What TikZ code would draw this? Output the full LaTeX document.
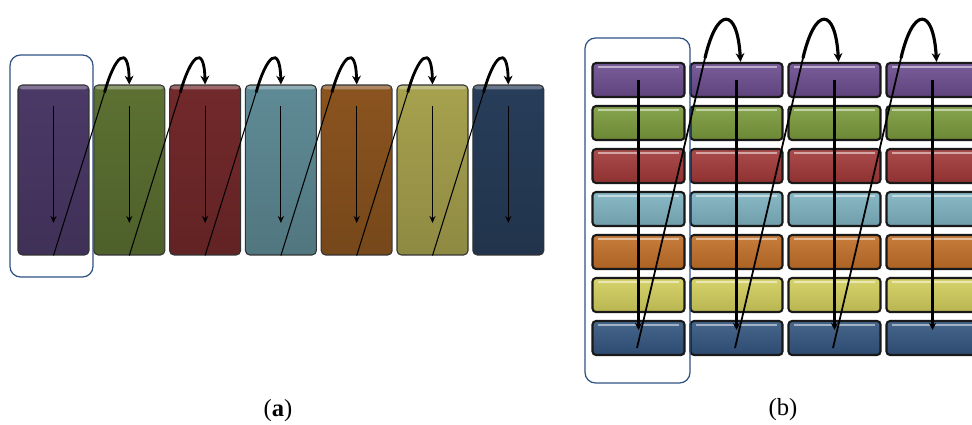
\documentclass[tikz,border=0pt]{standalone}
\usepackage{fontspec}
\setmainfont{Liberation Serif}
\usetikzlibrary{calc,arrows.meta}

\definecolor{purpA}{HTML}{4B3967}
\definecolor{greenA}{HTML}{5C7132}
\definecolor{redA}{HTML}{73292B}
\definecolor{tealA}{HTML}{5F8B96}
\definecolor{orangeA}{HTML}{8B541F}
\definecolor{oliveA}{HTML}{A7A24E}
\definecolor{navyA}{HTML}{273D59}
\definecolor{purpB}{HTML}{6B4C8E}
\definecolor{greenB}{HTML}{7A9A3B}
\definecolor{redB}{HTML}{A23838}
\definecolor{blueB}{HTML}{7EB2C1}
\definecolor{orangeB}{HTML}{C26F27}
\definecolor{yellowB}{HTML}{D2CE5C}
\definecolor{navyB}{HTML}{33557F}
\definecolor{frameblue}{HTML}{2E5283}

\tikzset{
	tallbox/.style={draw=black!80, line width=0.6pt, rounded corners=2.5pt, inner sep=0pt,
		minimum width=1.42cm, minimum height=3.4cm, top color=#1, bottom color=#1!85!black,
		path picture={\fill[white, opacity=0.3] (path picture bounding box.north west) rectangle ([yshift=-2.5pt]path picture bounding box.north east);}},
	cellbox/.style={draw=black!90, line width=1.2pt, rounded corners=2pt, inner sep=0pt,
		minimum width=1.84cm, minimum height=0.68cm, top color=#1!90!white, bottom color=#1!88!black,
		path picture={\draw[white, opacity=0.5, line width=1.3pt] ([xshift=3pt,yshift=-2.2pt]path picture bounding box.north west) -- ([xshift=-3pt,yshift=-2.2pt]path picture bounding box.north east);}},
	frame/.style={draw=frameblue, line width=0.7pt, rounded corners=6pt},
	down/.style={-{Stealth[length=4pt,width=3.5pt]}, line width=0.6pt},
	bdown/.style={-{Stealth[length=4pt,width=4pt]}, line width=1.3pt},
	diag/.style={line width=0.6pt},
	hop/.style={-{Stealth[length=5pt,width=5pt]}, line width=1.6pt},
	bdiag/.style={line width=1pt},
	bhop/.style={-{Stealth[length=5pt,width=5pt]}, line width=1.8pt},
	caption/.style={font=\fontsize{14}{16}\selectfont}
}

\begin{document}
\begin{tikzpicture}[x=0.02cm, y=0.02cm]
	%%%%% START %%%%%
	\useasboundingbox (0, 0) rectangle (972, 424);
	\clip (0, 0) rectangle (972, 424);
	
	% (a) one tall block per colour
	\foreach \col [count=\i] in {purpA, greenA, redA, tealA, orangeA, oliveA, navyA}
		\node[tallbox=\col] (a\i) at ({53.5+75.8*(\i-1)}, 254) {};
	
	\draw[frame] (10, 147) rectangle (93, 369);
	
	\foreach \i in {1,...,7}
		\draw[down] ($(a\i.center)+(0,64)$) -- ($(a\i.center)+(0,-53)$);
	
	\foreach \i [evaluate=\i as \j using int(\i+1)] in {1,...,6} {
		\draw[diag] (a\i.south) -- ++(51, 163) coordinate (wa\i);
		\draw[hop] (wa\i) .. controls +(10, 36) and +(-1, 42) .. (a\j.north);
	}
	
	% (b) seven rows, four columns
	\foreach \col [count=\r] in {purpB, greenB, redB, blueB, orangeB, yellowB, navyB}
		\foreach \c in {1,...,4}
			\node[cellbox=\col] (b\r-\c) at ({638.5+98*(\c-1)}, {344-43*(\r-1)}) {};
	
	\draw[frame] (585, 41) rectangle (690, 386);
	
	\foreach \c in {1,...,4}
		\draw[bdown] (b1-\c.center) -- ($(b7-\c.center)+(0,8)$);
	
	\foreach \c [evaluate=\c as \d using int(\c+1)] in {1,...,3} {
		\draw[bdiag] ($(b7-\c.center)+(-1.5,-10)$) -- ++(68, 290) coordinate (wb\c);
		\draw[bhop] (wb\c) .. controls +(12, 52) and +(-3, 55) .. ($(b1-\d.north)+(4,0)$);
	}
	
	\node[caption] (capa) at (278, 13) {(\textbf{a})};
	\node[caption] (capb) at (783, 14) {(b)};
	%%%%% END %%%%%
\end{tikzpicture}
\end{document}
